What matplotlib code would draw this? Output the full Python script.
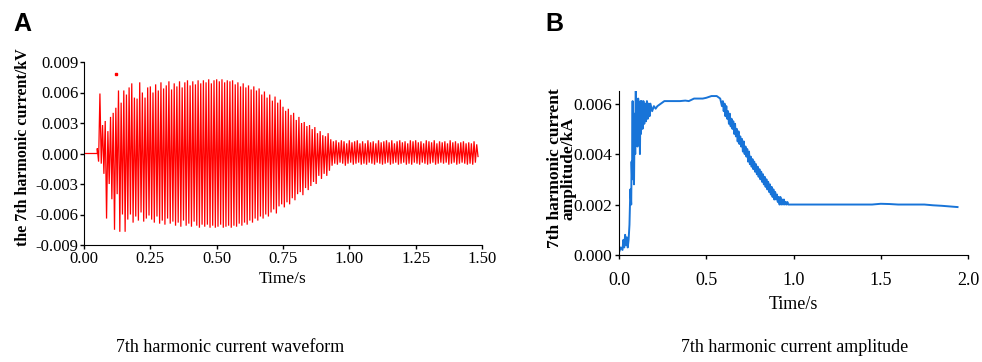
import numpy as np
import matplotlib
matplotlib.use("Agg")
import matplotlib.pyplot as plt

# ---------------- Panel A data: waveform peaks ----------------
wave_start = 0.05          # waveform flat at zero before this time
peak_step = 0.01           # spacing between successive positive peaks (s)
upper_peaks = [
    0.0005, 0.0059, 0.0028, 0.0032, 0.0022, 0.0036, 0.0040, 0.0045, 0.0062, 0.0050,
    0.0062, 0.0058, 0.0065, 0.0069, 0.0055, 0.0054, 0.0070, 0.0060, 0.0055, 0.0065,
    0.0066, 0.0060, 0.0068, 0.0062, 0.0070, 0.0064, 0.0067, 0.0071, 0.0063, 0.0069,
    0.0066, 0.0071, 0.0065, 0.0070, 0.0072, 0.0067, 0.0071, 0.0068, 0.0072, 0.0069,
    0.0072, 0.0070, 0.0073, 0.0069, 0.0072, 0.0073, 0.0071, 0.0073, 0.0070, 0.0072,
    0.0071, 0.0072, 0.0068, 0.0070, 0.0066, 0.0069, 0.0065, 0.0067, 0.0063, 0.0066,
    0.0062, 0.0064, 0.0058, 0.0061, 0.0055, 0.0058, 0.0052, 0.0056, 0.0050, 0.0053,
    0.0046, 0.0042, 0.0044, 0.0038, 0.0040, 0.0033, 0.0036, 0.0030, 0.0031, 0.0027,
    0.0028, 0.0024, 0.0026, 0.0020, 0.0022, 0.0018, 0.0017, 0.0020, 0.0014, 0.0012,
    0.0013, 0.0011, 0.0013, 0.0012, 0.0010, 0.0013, 0.0011, 0.0012, 0.0013, 0.0010,
    0.0012, 0.0010, 0.0013, 0.0011, 0.0012, 0.0010, 0.0013, 0.0011, 0.0012, 0.0013,
    0.0011, 0.0013, 0.0010, 0.0012, 0.0013, 0.0011, 0.0012, 0.0010, 0.0013, 0.0012,
    0.0013, 0.0011, 0.0012, 0.0010, 0.0013, 0.0012, 0.0011, 0.0013, 0.0010, 0.0012,
    0.0011, 0.0012, 0.0010, 0.0013, 0.0011, 0.0012, 0.0010, 0.0011, 0.0012, 0.0010,
    0.0011, 0.0010, 0.0012, 0.0009,
]
lower_peaks = [
    -0.0008, -0.0010, -0.0020, -0.0064, -0.0030, -0.0045, -0.0075, -0.0040, -0.0077, -0.0060,
    -0.0077, -0.0065, -0.0060, -0.0068, -0.0062, -0.0066, -0.0058, -0.0067, -0.0064, -0.0061,
    -0.0065, -0.0068, -0.0062, -0.0069, -0.0066, -0.0070, -0.0064, -0.0069, -0.0067, -0.0071,
    -0.0068, -0.0072, -0.0066, -0.0071, -0.0069, -0.0072, -0.0067, -0.0071, -0.0073, -0.0070,
    -0.0072, -0.0070, -0.0073, -0.0071, -0.0073, -0.0072, -0.0070, -0.0073, -0.0072, -0.0071,
    -0.0073, -0.0071, -0.0072, -0.0069, -0.0071, -0.0068, -0.0070, -0.0066, -0.0068, -0.0064,
    -0.0066, -0.0062, -0.0064, -0.0060, -0.0062, -0.0058, -0.0055, -0.0059, -0.0052, -0.0050,
    -0.0053, -0.0048, -0.0050, -0.0044, -0.0046, -0.0040, -0.0038, -0.0041, -0.0034, -0.0036,
    -0.0032, -0.0028, -0.0030, -0.0022, -0.0025, -0.0020, -0.0022, -0.0017, -0.0012, -0.0010,
    -0.0011, -0.0009, -0.0010, -0.0012, -0.0010, -0.0009, -0.0011, -0.0010, -0.0009, -0.0011,
    -0.0010, -0.0011, -0.0009, -0.0010, -0.0011, -0.0009, -0.0010, -0.0011, -0.0010, -0.0009,
    -0.0011, -0.0010, -0.0009, -0.0011, -0.0010, -0.0009, -0.0011, -0.0010, -0.0011, -0.0009,
    -0.0010, -0.0011, -0.0009, -0.0010, -0.0011, -0.0010, -0.0009, -0.0011, -0.0010, -0.0009,
    -0.0010, -0.0009, -0.0011, -0.0010, -0.0009, -0.0011, -0.0010, -0.0009, -0.0010, -0.0011,
    -0.0010, -0.0011, -0.0009, -0.0003,
]
stray_point_t = [0.12]
stray_point_v = [0.0078]

a_xticks = [0.00, 0.25, 0.50, 0.75, 1.00, 1.25, 1.50]
a_yticks = [-0.009, -0.006, -0.003, 0.000, 0.003, 0.006, 0.009]

# ---------------- Panel B data: amplitude ----------------
amp_t = [0.00, 0.01, 0.02, 0.025, 0.03, 0.035, 0.04, 0.045, 0.05, 0.055,
         0.06, 0.065, 0.07, 0.072, 0.075, 0.078, 0.08, 0.083, 0.086, 0.09,
         0.093, 0.096, 0.10, 0.103, 0.106, 0.11, 0.113, 0.116, 0.12, 0.123,
         0.126, 0.13, 0.135, 0.14, 0.145, 0.15, 0.155, 0.16, 0.165, 0.17,
         0.175, 0.18, 0.19, 0.20, 0.21, 0.22, 0.24, 0.26, 0.28, 0.30,
         0.32, 0.35, 0.38, 0.40, 0.43, 0.45, 0.48, 0.50, 0.53, 0.56,
         0.58, 0.59, 0.595, 0.60, 0.605, 0.61, 0.615, 0.62, 0.625, 0.63,
         0.635, 0.64, 0.645, 0.65, 0.655, 0.66, 0.665, 0.67, 0.675, 0.68,
         0.685, 0.69, 0.695, 0.70, 0.705, 0.71, 0.715, 0.72, 0.725, 0.73,
         0.735, 0.74, 0.745, 0.75, 0.755, 0.76, 0.765, 0.77, 0.775, 0.78,
         0.785, 0.79, 0.795, 0.80, 0.805, 0.81, 0.815, 0.82, 0.825, 0.83,
         0.835, 0.84, 0.845, 0.85, 0.855, 0.86, 0.865, 0.87, 0.875, 0.88,
         0.885, 0.89, 0.895, 0.90, 0.905, 0.91, 0.915, 0.92, 0.925, 0.93,
         0.935, 0.94, 0.945, 0.95, 0.955, 0.96, 0.965, 0.97, 0.98, 0.99,
         1.00, 1.01, 1.02, 1.03, 1.05, 1.10, 1.20, 1.30, 1.35, 1.40,
         1.45, 1.50, 1.55, 1.60, 1.65, 1.70, 1.75, 1.80, 1.85, 1.90, 1.94]
amp_v = [0.0001, 0.0003, 0.0002, 0.0006, 0.0003, 0.0008, 0.0004, 0.0007, 0.0003, 0.0006,
         0.0012, 0.0026, 0.0020, 0.0037, 0.0030, 0.0061, 0.0034, 0.0048, 0.0028, 0.0056,
         0.0040, 0.0072, 0.0045, 0.0060, 0.0043, 0.0062, 0.0046, 0.0058, 0.0040, 0.0061,
         0.0048, 0.0061, 0.0050, 0.0061, 0.0052, 0.0060, 0.0053, 0.0061, 0.0054, 0.0060,
         0.0055, 0.0060, 0.0057, 0.0059, 0.0058, 0.0059, 0.0060, 0.0061, 0.0061, 0.0061,
         0.0061, 0.0061, 0.00612, 0.0061, 0.0062, 0.0062, 0.0062, 0.00623, 0.0063, 0.0063,
         0.0062, 0.0059, 0.0061, 0.0057, 0.0060, 0.0055, 0.0059, 0.0054, 0.0057, 0.0052,
         0.0056, 0.0051, 0.0054, 0.0050, 0.0053, 0.0048, 0.0052, 0.0047, 0.0050, 0.0045,
         0.0049, 0.0044, 0.0047, 0.0043, 0.0046, 0.0041, 0.0045, 0.0040, 0.0043, 0.0039,
         0.0042, 0.0037, 0.0041, 0.0036, 0.0039, 0.0035, 0.0038, 0.0034, 0.0037, 0.0033,
         0.0036, 0.0032, 0.0035, 0.0031, 0.0034, 0.0030, 0.0033, 0.0029, 0.0032, 0.0028,
         0.0031, 0.0027, 0.0030, 0.0026, 0.0029, 0.0025, 0.0028, 0.0024, 0.0027, 0.0023,
         0.0026, 0.0022, 0.0025, 0.0022, 0.0024, 0.0021, 0.0023, 0.0020, 0.0023, 0.0020,
         0.0022, 0.0020, 0.0022, 0.0020, 0.0021, 0.0020, 0.0021, 0.0020, 0.0020, 0.0020,
         0.0020, 0.0020, 0.0020, 0.0020, 0.0020, 0.0020, 0.0020, 0.0020, 0.0020, 0.0020,
         0.0020, 0.00203, 0.00202, 0.0020, 0.0020, 0.0020, 0.0020, 0.00197, 0.00195, 0.00192, 0.0019]
b_xticks = [0.0, 0.5, 1.0, 1.5, 2.0]
b_yticks = [0.000, 0.002, 0.004, 0.006]

# ---------------- Figure ----------------
SERIF = ["Liberation Serif", "DejaVu Serif"]
fig = plt.figure(figsize=(9.82, 3.62), dpi=100)

# Panel A
axA = fig.add_axes([84/982, 117/362, 398/982, 183/362])
n = len(upper_peaks)
xs = [0.0, wave_start]
ys = [0.0, 0.0]
for i in range(n):
    t0 = wave_start + i * peak_step
    xs += [t0, t0 + peak_step / 2]
    ys += [upper_peaks[i], lower_peaks[i]]
axA.plot(xs, ys, color="#ff0000", lw=0.9, solid_joinstyle="miter")
axA.plot(stray_point_t, stray_point_v, ls="none", marker="s", ms=1.5, color="#ff0000")
axA.set_xlim(0, 1.5)
axA.set_ylim(-0.009, 0.009)
axA.set_xticks(a_xticks)
axA.set_xticklabels([f"{v:.2f}" for v in a_xticks])
axA.set_yticks(a_yticks)
axA.set_yticklabels([f"{v:.3f}" for v in a_yticks])
for s in ["top", "right"]:
    axA.spines[s].set_visible(False)
axA.tick_params(direction="out", length=3, width=1, labelsize=12, pad=1)
for lab in axA.get_xticklabels() + axA.get_yticklabels():
    lab.set_family(SERIF)
axA.set_xlabel("Time/s", family=SERIF, fontsize=12.5, labelpad=3)
axA.set_ylabel("the 7th harmonic current/kV", family=SERIF, fontsize=11.5,
               fontweight="bold")
axA.yaxis.set_label_coords(-0.132, 0.533)

# Panel B
axB = fig.add_axes([619/982, 107/362, 349/982, 164/362])
axB.plot(amp_t, amp_v, color="#1874d8", lw=1.4)
axB.set_xlim(0, 2.0)
axB.set_ylim(0, 0.0065)
axB.set_xticks(b_xticks)
axB.set_xticklabels([f"{v:.1f}" for v in b_xticks])
axB.set_yticks(b_yticks)
axB.set_yticklabels([f"{v:.3f}" for v in b_yticks])
for s in ["top", "right"]:
    axB.spines[s].set_visible(False)
axB.tick_params(direction="out", length=3, width=1, labelsize=12.5, pad=2)
axB.tick_params(axis="x", pad=9, labelsize=13)
for lab in axB.get_xticklabels() + axB.get_yticklabels():
    lab.set_family(SERIF)
axB.set_xlabel("Time/s", family=SERIF, fontsize=13, labelpad=5)
axB.set_ylabel("7th harmonic current\namplitude/kA", family=SERIF, fontsize=12.5,
               fontweight="bold", linespacing=0.8)
axB.yaxis.set_label_coords(-0.122, 0.53)

# Panel letters and captions
fig.text(13/982, 1 - 31/362, "A", fontsize=18, fontweight="bold",
         family=["Liberation Sans", "DejaVu Sans"], va="baseline", ha="left")
fig.text(545/982, 1 - 31/362, "B", fontsize=18, fontweight="bold",
         family=["Liberation Sans", "DejaVu Sans"], va="baseline", ha="left")
fig.text(230/982, 1 - 348/362, "7th harmonic current waveform", family=SERIF,
         fontsize=13, ha="center", va="center")
fig.text(795/982, 1 - 348/362, "7th harmonic current amplitude", family=SERIF,
         fontsize=13, ha="center", va="center")

fig.savefig("out.png", dpi=100)
